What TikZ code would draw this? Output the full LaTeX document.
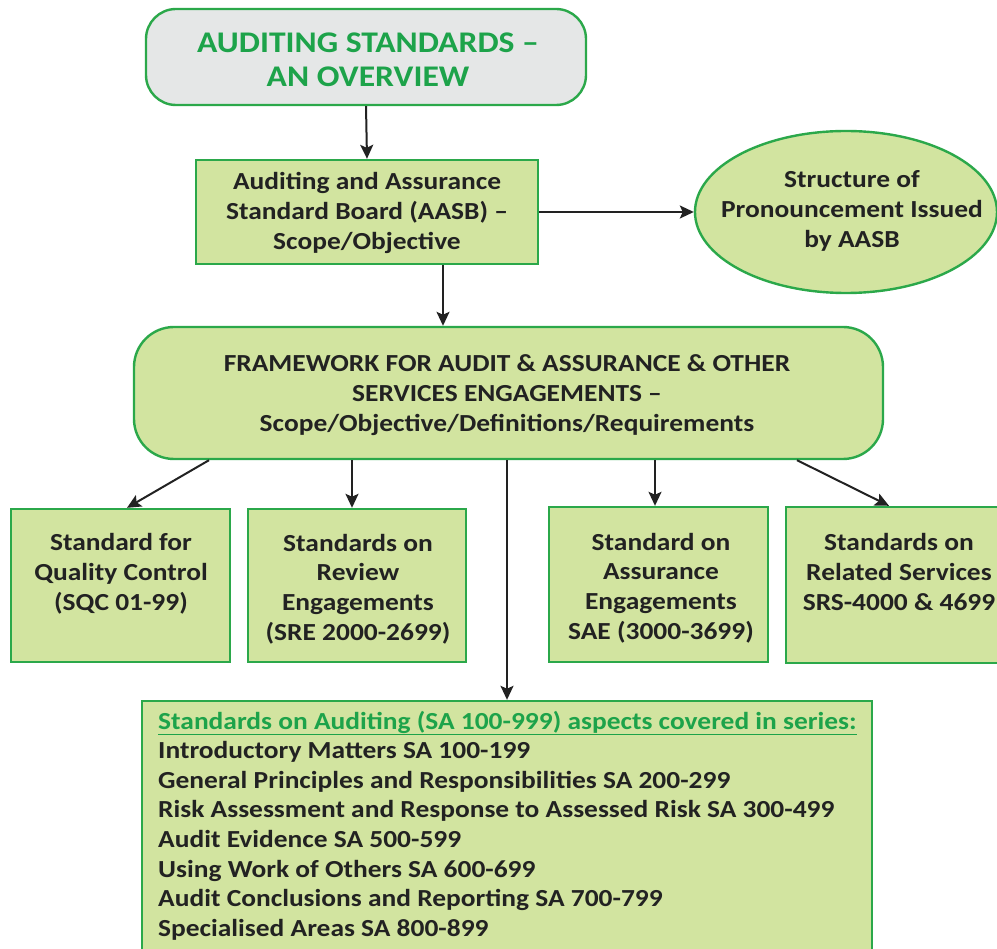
\documentclass[tikz,border=0pt]{standalone}
\usepackage{fontspec}
\setmainfont{Carlito}[FakeStretch=1.12]
\usetikzlibrary{arrows.meta,shapes.geometric}
\definecolor{bord}{HTML}{2BA84A}
\definecolor{gfill}{HTML}{D2E4A0}
\definecolor{tfill}{HTML}{E5E7E7}
\definecolor{tgreen}{HTML}{1DA34A}
\definecolor{ink}{HTML}{222222}
\tikzset{
  box/.style={draw=bord, line width=2.4pt, fill=gfill, rectangle, inner sep=0pt},
  txt/.style={align=center, text=ink, font=\fontsize{24.5}{29.8}\selectfont\bfseries, inner sep=0pt},
  satxt/.style={anchor=base west, text=ink, font=\fontsize{24.5}{29.8}\selectfont\bfseries, inner sep=0pt},
  arr/.style={draw=ink, line width=2pt, -{Stealth[length=14pt,width=13pt,inset=3pt]}},
}
\begin{document}
\begin{tikzpicture}[x=1pt,y=-1pt]
\useasboundingbox (0,0) rectangle (997,949);
\clip (0,0) rectangle (997,949);
\fill[white] (0,0) rectangle (997,949);
% top
\node[box, fill=tfill, rounded corners=30pt, minimum width=440pt, minimum height=96pt] (top) at (366,57) {};
\node[txt, text=tgreen, font=\fontsize{30}{34}\selectfont\bfseries] (topt) at (368,60) {AUDITING STANDARDS --\\AN OVERVIEW};
% AASB
\node[box, minimum width=342pt, minimum height=104pt] (aasb) at (367,212) {};
\node[txt] (aasbt) at (367,213) {Auditing and Assurance\\Standard Board (AASB) --\\Scope/Objective};
% ellipse
\node[box, ellipse, minimum width=302pt, minimum height=162pt] (ell) at (846,212) {};
\node[txt] (ellt) at (852,211) {Structure of\\Pronouncement Issued\\by AASB};
% framework
\node[box, rounded corners=40pt, minimum width=749pt, minimum height=132pt] (fw) at (508.5,393) {};
\node[txt] (fwt) at (507,395) {FRAMEWORK FOR AUDIT \& ASSURANCE \& OTHER\\SERVICES ENGAGEMENTS --\\Scope/Objective/Definitions/Requirements};
% children
\node[box, minimum width=219pt, minimum height=153pt] (b1) at (120.5,585.5) {};
\node[txt] (b1t) at (121,574) {Standard for\\Quality Control\\(SQC 01-99)};
\node[box, minimum width=218pt, minimum height=153pt] (b2) at (357,585.5) {};
\node[txt] (b2t) at (358,589) {Standards on\\Review\\Engagements\\(SRE 2000-2699)};
\node[box, minimum width=219pt, minimum height=155pt] (b3) at (658.5,584.5) {};
\node[txt] (b3t) at (661,588) {Standard on\\Assurance\\Engagements\\SAE (3000-3699)};
\node[box, minimum width=226pt, minimum height=156pt] (b4) at (899,585) {};
\node[txt] (b4t) at (899,572) {Standards on\\Related Services\\SRS-4000 \& 4699};
% SA box
\node[box, minimum width=730pt, minimum height=280pt] (sa) at (507,841) {};
\node[satxt, text=tgreen] (sa0) at (158,729) {\underline{Standards on Auditing (SA 100-999) aspects covered in series:}};
\foreach \t [count=\i] in {Introductory Matters SA 100-199,
  General Principles and Responsibilities SA 200-299,
  Risk Assessment and Response to Assessed Risk SA 300-499,
  Audit Evidence SA 500-599,
  Using Work of Others SA 600-699,
  Audit Conclusions and Reporting SA 700-799,
  Specialised Areas SA 800-899}
  \node[satxt] (sa\i) at (158,{729+29.6*\i}) {\t};
% arrows
\draw[arr] (top.south) -- (aasb.north);
\draw[arr] (aasb.east) -- (ell.west);
\draw[arr] ([xshift=76pt]aasb.south) -- ([xshift=76pt]aasb.south |- fw.north);
\draw[arr] ([xshift=-299.5pt]fw.south) -- ([xshift=6.5pt]b1.north);
\draw[arr] ([xshift=-156.5pt]fw.south) -- ([xshift=-156.5pt]fw.south |- b2.north);
\draw[arr] (sa.north |- fw.south) -- (sa.north);
\draw[arr] ([xshift=146.5pt]fw.south) -- ([xshift=146.5pt]fw.south |- b3.north);
\draw[arr] ([xshift=288.5pt]fw.south) -- ([xshift=-10pt]b4.north);
\end{tikzpicture}
\end{document}
